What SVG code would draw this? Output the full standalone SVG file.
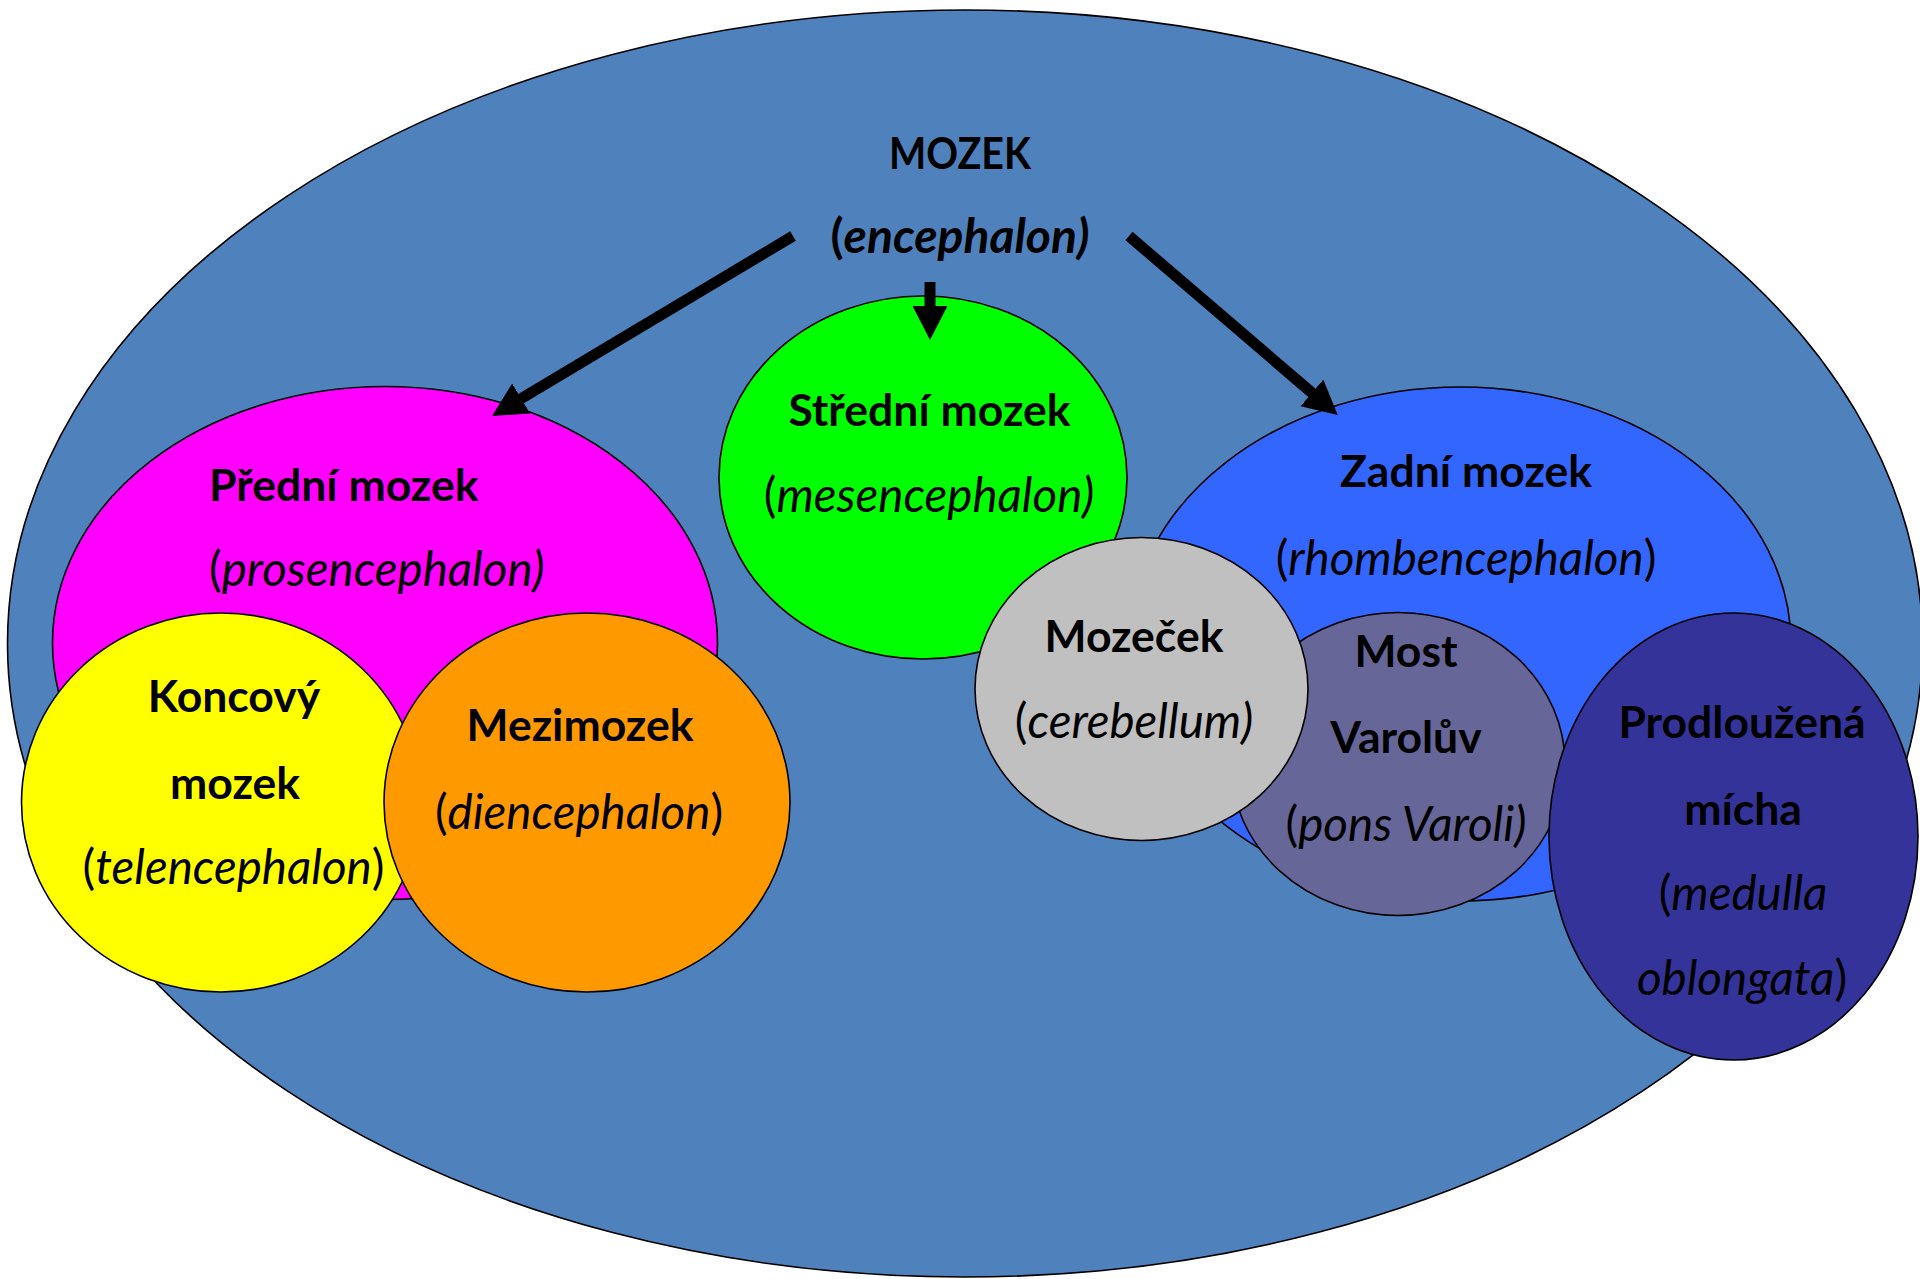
<svg xmlns="http://www.w3.org/2000/svg" width="1920" height="1279" viewBox="0 0 1920 1279">
<style>
.node{stroke:#000;stroke-width:1.6}
text{font-family:Lato,"Open Sans","Liberation Sans",sans-serif;font-size:47.5px;fill:#000;text-anchor:middle}
.b{font-weight:bold;font-size:44.5px}
.bi{font-weight:bold;font-size:48px}
.i{font-style:italic}
.conn{stroke:#000;stroke-width:11;fill:none;marker-end:url(#ah)}
</style>
<defs>
<marker id="ah" markerUnits="userSpaceOnUse" markerWidth="36" markerHeight="36" refX="3" refY="17.5" orient="auto">
<path d="M0,0 L34,17.5 L0,35 z" fill="#000"/>
</marker>
</defs>
<rect width="1920" height="1279" fill="#fff"/>
<g id="mozek">
<ellipse class="node" cx="965" cy="643.5" rx="957.5" ry="633.5" fill="#4F81BD"/>
<text class="b" x="960" y="169" textLength="142" lengthAdjust="spacingAndGlyphs">MOZEK</text>
<text class="bi" x="960" y="253">(<tspan class="i">encephalon)</tspan></text>
</g>
<g id="predni-mozek">
<ellipse class="node" cx="385" cy="643" rx="332.5" ry="256.5" fill="#FF00FF"/>
<text class="b" x="209" y="501" style="text-anchor:start">Přední mozek</text>
<text x="209" y="586" style="text-anchor:start">(<tspan class="i">prosencephalon)</tspan></text>
</g>
<g id="koncovy-mozek">
<ellipse class="node" cx="221" cy="802.5" rx="199.5" ry="189.5" fill="#FFFF00"/>
<text class="b" x="234" y="712">Koncový</text>
<text class="b" x="235" y="799">mozek</text>
<text x="233.5" y="884">(<tspan class="i">telencephalon</tspan>)</text>
</g>
<g id="mezimozek">
<ellipse class="node" cx="587" cy="802.5" rx="203" ry="189.5" fill="#FF9900"/>
<text class="b" x="580" y="741">Mezimozek</text>
<text x="579" y="829">(<tspan class="i">diencephalon</tspan>)</text>
</g>
<g id="stredni-mozek">
<ellipse class="node" cx="923" cy="477.5" rx="204" ry="181.5" fill="#00FF00"/>
<text class="b" x="929.5" y="426">Střední mozek</text>
<text x="929" y="512">(<tspan class="i">mesencephalon)</tspan></text>
</g>
<g id="zadni-mozek">
<ellipse class="node" cx="1460" cy="644" rx="331" ry="257" fill="#3366FF"/>
<text class="b" x="1466" y="487">Zadní mozek</text>
<text x="1466" y="575">(<tspan class="i">rhombencephalon</tspan>)</text>
</g>
<g id="most-varoluv">
<ellipse class="node" cx="1398" cy="764" rx="167" ry="151.5" fill="#666699"/>
<text class="b" x="1406" y="667">Most</text>
<text class="b" x="1406" y="753">Varolův</text>
<text x="1406" y="841">(<tspan class="i">pons Varoli)</tspan></text>
</g>
<g id="mozecek">
<ellipse class="node" cx="1141.5" cy="689" rx="166.5" ry="151.5" fill="#C0C0C0"/>
<text class="b" x="1134" y="652">Mozeček</text>
<text x="1134" y="738">(<tspan class="i">cerebellum)</tspan></text>
</g>
<g id="prodlouzena-micha">
<ellipse class="node" cx="1733.5" cy="836.5" rx="184.5" ry="223.5" fill="#333399"/>
<text class="b" x="1742" y="738">Prodloužená</text>
<text class="b" x="1743" y="824.5">mícha</text>
<text x="1743" y="910">(<tspan class="i">medulla</tspan></text>
<text x="1742" y="995"><tspan class="i">oblongata</tspan>)</text>
</g>
<g id="connectors">
<line class="conn" x1="793" y1="236" x2="518.6" y2="400.1"/>
<line class="conn" x1="930" y1="282" x2="930" y2="309"/>
<line class="conn" x1="1129" y1="236" x2="1314.2" y2="394.8"/>
</g>
</svg>
